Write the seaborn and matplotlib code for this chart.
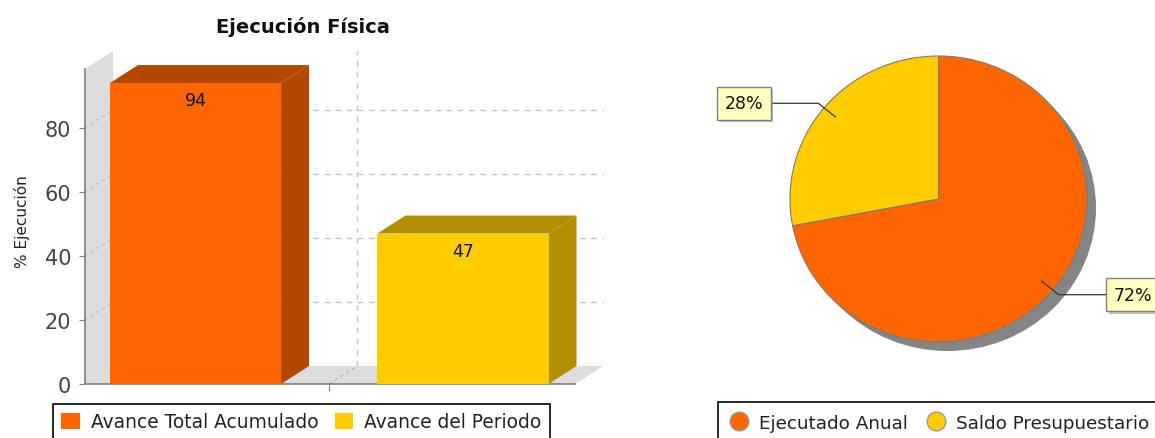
import numpy as np
import matplotlib
matplotlib.use("Agg")
import matplotlib.pyplot as plt
import matplotlib.patches as mpatches
from matplotlib.lines import Line2D
import matplotlib.patheffects as pe
import seaborn as sns
import pandas as pd

# ---------------- data ----------------
bar_categories = ["Avance Total Acumulado", "Avance del Periodo"]
bar_values = [94, 47]
bar_colors = ["#FF6600", "#FFCC00"]
bar_side_colors = ["#B34700", "#B38F00"]
y_ticks = [0, 20, 40, 60, 80]

pie_labels = ["Ejecutado Anual", "Saldo Presupuestario"]
pie_values = [72, 28]
pie_colors = ["#FF6600", "#FFCC00"]

title = "Ejecución Física"
y_label = "% Ejecución"

# ---------------- figure ----------------
W, H = 1155, 439
sns.set_style("white")
plt.rcParams["font.family"] = ["DejaVu Sans"]

fig = plt.figure(figsize=(W / 100, H / 100), dpi=100)


def rect(l, t, r, b):
    return [l / W, 1 - b / H, (r - l) / W, (b - t) / H]


# ---------------- 3D-like bar chart ----------------
ax = fig.add_axes(rect(85, 70, 575, 385))
df = pd.DataFrame({"cat": bar_categories, "val": bar_values})
sns.barplot(data=df, x="cat", y="val", hue="cat", palette=bar_colors,
            width=0.64, ax=ax, legend=False, linewidth=0, saturation=1)
bars = sorted(list(ax.patches), key=lambda p: p.get_x())

xl, xr = -0.413, 1.419
ytop = 98.4
ax.set_xlim(xl, xr)
ax.set_ylim(0, ytop)
ppx = 490 / (xr - xl)
ppy = 315 / ytop
ddx = 28 / ppx
ddy = 18 / ppy

wall_c = "#DDDDDD"
ax.add_patch(mpatches.Polygon([(xl, 0), (xl + ddx, ddy), (xl + ddx, ytop + ddy), (xl, ytop)],
                              closed=True, fc=wall_c, ec="none", zorder=0.1, clip_on=False))
ax.add_patch(mpatches.Polygon([(xl, 0), (xr, 0), (xr + ddx, ddy), (xl + ddx, ddy)],
                              closed=True, fc=wall_c, ec="none", zorder=0.1, clip_on=False))

for v in y_ticks[1:]:
    ax.plot([xl + ddx, xr + ddx], [v + ddy, v + ddy], ls=(0, (4, 4)), color="#C4C4C4",
            lw=1, zorder=0.2, clip_on=False)
    ax.plot([xl, xl + ddx], [v, v + ddy], ls=(0, (3, 3)), color="#BDBDBD",
            lw=0.8, zorder=0.2, clip_on=False)
ax.plot([0.5 + ddx, 0.5 + ddx], [ddy, ytop + ddy], ls=(0, (4, 4)), color="#C4C4C4",
        lw=1, zorder=0.2, clip_on=False)
ax.plot([0.5, 0.5 + ddx], [0, ddy], ls=(0, (3, 3)), color="#B0B0B0",
        lw=0.8, zorder=0.2, clip_on=False)

for p, sc, v in zip(bars, bar_side_colors, bar_values):
    x0 = p.get_x()
    x1 = x0 + p.get_width()
    h = p.get_height()
    p.set_zorder(3)
    ax.add_patch(mpatches.Polygon([(x1, 0), (x1 + ddx, ddy), (x1 + ddx, h + ddy), (x1, h)],
                                  closed=True, fc=sc, ec="none", zorder=2.9, clip_on=False))
    ax.add_patch(mpatches.Polygon([(x0, h), (x0 + ddx, h + ddy), (x1 + ddx, h + ddy), (x1, h)],
                                  closed=True, fc=sc, ec="none", zorder=2.9, clip_on=False))
    ax.annotate(f"{v:g}", xy=(x0 + p.get_width() / 2, h), xytext=(0, -17),
                textcoords="offset pixels", ha="center", va="center",
                fontsize=12.5, color="#111111", zorder=4)

for s in ["top", "right"]:
    ax.spines[s].set_visible(False)
for s in ["left", "bottom"]:
    ax.spines[s].set_color("#808080")
    ax.spines[s].set_linewidth(1.2)
ax.set_facecolor("none")
ax.set_yticks(y_ticks)
ax.set_xticks([0.5])
ax.set_xticklabels([""])
ax.tick_params(axis="y", labelsize=15, labelcolor="#444444", length=4, color="#808080",
               pad=6, left=True)
ax.tick_params(axis="x", length=5, color="#808080", bottom=True)
ax.set_xlabel("")
ax.set_ylabel("")

fig.text(303 / W, 1 - 27 / H, title, ha="center", va="center", fontsize=14,
         fontweight="bold", color="#111111")
fig.text(22 / W, 1 - 222 / H, y_label, ha="center", va="center", rotation=90,
         fontsize=11, color="#222222")

h1 = [mpatches.Patch(facecolor=c, edgecolor="none", label=l)
      for c, l in zip(bar_colors, bar_categories)]
leg1 = fig.legend(handles=h1, loc="upper left", bbox_to_anchor=(53 / W, 1 - 405 / H),
                  ncol=2, fontsize=13.4, frameon=True, fancybox=False, edgecolor="black",
                  framealpha=1, borderaxespad=0, borderpad=0.45, handlelength=1.0,
                  handleheight=1.0, handletextpad=0.6, columnspacing=0.85)
leg1.get_frame().set_linewidth(1.2)
for t in leg1.get_texts():
    t.set_color("#222222")

# ---------------- pie chart ----------------
cx, cy, rx, ry, lim = 938.5, 200, 148.5, 143, 1.45
axp = fig.add_axes(rect(cx - lim * rx, cy - lim * ry, cx + lim * rx, cy + lim * ry))
axp.add_patch(mpatches.Ellipse((9 / rx, -9 / ry), 2, 2, fc="#858585", ec="none", zorder=0.5))
wedges, _ = axp.pie(pie_values, colors=pie_colors, startangle=90, counterclock=False,
                    wedgeprops=dict(edgecolor="#7A7A7A", linewidth=0.8))
axp.set_aspect("auto")
axp.set_xlim(-lim, lim)
axp.set_ylim(-lim, lim)
axp.axis("off")

for w, v in zip(wedges, pie_values):
    mid = np.deg2rad((w.theta1 + w.theta2) / 2)
    c, s = np.cos(mid), np.sin(mid)
    side = 1 if c >= 0 else -1
    p0 = (0.9 * c, 0.9 * s)
    p1 = (1.05 * c, 1.05 * s)
    lx, ly = side * 1.31, p1[1]
    axp.plot([p0[0], p1[0], lx], [p0[1], p1[1], ly], color="#333333", lw=0.9, zorder=4,
             clip_on=False)
    t = axp.text(lx, ly, f"{v}%", ha="center", va="center", fontsize=12.5, color="#111111",
                 zorder=5, clip_on=False,
                 bbox=dict(boxstyle="square,pad=0.42", fc="#FFFFC0", ec="#808080", lw=1))
    t.get_bbox_patch().set_path_effects([
        pe.SimplePatchShadow(offset=(2, -2), shadow_rgbFace="#999999", alpha=0.6),
        pe.Normal()])

h2 = [Line2D([], [], marker="o", ls="none", markersize=13.5, markerfacecolor=c,
             markeredgecolor="#999999", label=l) for c, l in zip(pie_colors, pie_labels)]
leg2 = fig.legend(handles=h2, loc="upper left", bbox_to_anchor=(718 / W, 1 - 403 / H),
                  ncol=2, fontsize=13.2, frameon=True, fancybox=False, edgecolor="black",
                  framealpha=1, borderaxespad=0, borderpad=0.65, handlelength=1.0,
                  handletextpad=0.6, columnspacing=1.0)
leg2.get_frame().set_linewidth(1.2)
for t in leg2.get_texts():
    t.set_color("#222222")

fig.savefig("out.png", dpi=100)
